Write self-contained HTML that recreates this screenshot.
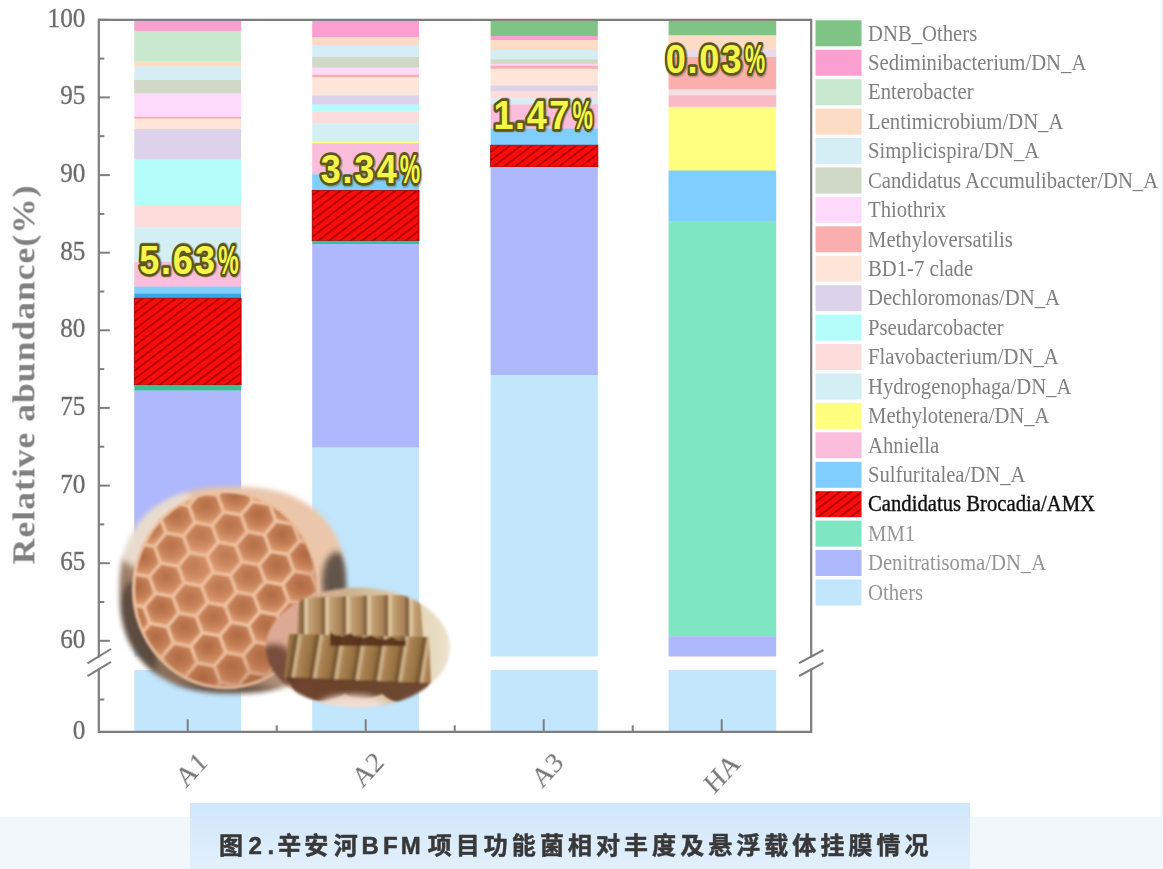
<!DOCTYPE html>
<html lang="zh"><head><meta charset="utf-8"><title>图2</title>
<style>
html,body{margin:0;padding:0;background:#fff}
body{width:1163px;height:869px;position:relative;overflow:hidden;font-family:"Liberation Sans",sans-serif}
#strip{position:absolute;left:0;top:817px;width:1163px;height:52px;background:#f2f7fb}
#edge{position:absolute;left:1161px;top:0;width:2px;height:869px;background:#f2f7fb}
#cap{position:absolute;left:190px;top:803px;width:780px;height:66px;background:linear-gradient(#cfe6fa,#e3f0fc)}
#captext{position:absolute;left:219px;top:829px;width:720px;height:30px;margin:0;font-size:24px;line-height:30px;letter-spacing:4px;font-weight:bold;color:transparent;white-space:nowrap;overflow:hidden}
</style></head><body>
<div id="strip"></div>
<div id="edge"></div>
<div id="cap"></div>
<svg width="1163" height="869" viewBox="0 0 1163 869" style="position:absolute;left:0;top:0">
<defs>
<pattern id="hatch" width="6.6" height="6.6" patternUnits="userSpaceOnUse" patternTransform="rotate(-37)">
<rect width="6.6" height="6.6" fill="#f80808"/><rect y="0" width="6.6" height="1.5" fill="#a40000"/>
</pattern>
<filter id="soft" x="-5%" y="-5%" width="110%" height="110%"><feGaussianBlur stdDeviation="0.45"/></filter>
<filter id="softb" x="-2%" y="-2%" width="104%" height="104%"><feGaussianBlur stdDeviation="0.75"/></filter>
<filter id="soft2" x="-5%" y="-5%" width="110%" height="110%"><feGaussianBlur stdDeviation="0.6"/></filter>
</defs>
<g filter="url(#softb)">
<rect x="134.3" y="20.00" width="106.8" height="11.30" fill="#fb9fd0"/>
<rect x="134.3" y="31.00" width="106.8" height="30.30" fill="#c8e8cf"/>
<rect x="134.3" y="61.00" width="106.8" height="5.80" fill="#fddcc6"/>
<rect x="134.3" y="66.50" width="106.8" height="13.80" fill="#d5eef6"/>
<rect x="134.3" y="80.00" width="106.8" height="13.70" fill="#d0d9c6"/>
<rect x="134.3" y="93.40" width="106.8" height="23.70" fill="#fddafc"/>
<rect x="134.3" y="116.80" width="106.8" height="2.10" fill="#fbaeae"/>
<rect x="134.3" y="118.60" width="106.8" height="10.70" fill="#fde6d9"/>
<rect x="134.3" y="129.00" width="106.8" height="30.70" fill="#dcd3ea"/>
<rect x="134.3" y="159.40" width="106.8" height="45.90" fill="#b4fdfb"/>
<rect x="134.3" y="205.00" width="106.8" height="22.60" fill="#fddcdc"/>
<rect x="134.3" y="227.30" width="106.8" height="34.80" fill="#d4eff3"/>
<rect x="134.3" y="261.80" width="106.8" height="25.10" fill="#fbbddc"/>
<rect x="134.3" y="286.60" width="106.8" height="7.20" fill="#80ceff"/>
<rect x="134.3" y="293.50" width="106.8" height="5.00" fill="#38a8ec"/>
<rect x="134.3" y="298.20" width="106.8" height="87.00" fill="url(#hatch)"/>
<rect x="134.3" y="298.20" width="106.8" height="86.70" fill="none" stroke="#a00000" stroke-width="0.8"/>
<rect x="134.3" y="384.90" width="106.8" height="5.90" fill="#35c394"/>
<rect x="134.3" y="390.50" width="106.8" height="174.80" fill="#aeb8fc"/>
<rect x="134.3" y="565.00" width="106.8" height="91.50" fill="#c2e6fc"/>
<rect x="134.3" y="670.0" width="106.8" height="61.5" fill="#c2e6fc"/>
<rect x="312.2" y="20.00" width="106.8" height="17.70" fill="#fb9fd0"/>
<rect x="312.2" y="37.40" width="106.8" height="7.90" fill="#fddcc6"/>
<rect x="312.2" y="45.00" width="106.8" height="12.30" fill="#d5eef6"/>
<rect x="312.2" y="57.00" width="106.8" height="10.90" fill="#d0d9c6"/>
<rect x="312.2" y="67.60" width="106.8" height="7.50" fill="#fddafc"/>
<rect x="312.2" y="74.80" width="106.8" height="2.90" fill="#fbaeae"/>
<rect x="312.2" y="77.40" width="106.8" height="18.30" fill="#fde6d9"/>
<rect x="312.2" y="95.40" width="106.8" height="9.40" fill="#dcd3ea"/>
<rect x="312.2" y="104.50" width="106.8" height="7.20" fill="#b4fdfb"/>
<rect x="312.2" y="111.40" width="106.8" height="12.20" fill="#fddcdc"/>
<rect x="312.2" y="123.30" width="106.8" height="18.60" fill="#d4eff3"/>
<rect x="312.2" y="141.60" width="106.8" height="2.00" fill="#ffff80"/>
<rect x="312.2" y="143.30" width="106.8" height="31.30" fill="#fbbddc"/>
<rect x="312.2" y="174.30" width="106.8" height="16.40" fill="#80ceff"/>
<rect x="312.2" y="190.40" width="106.8" height="50.70" fill="url(#hatch)"/>
<rect x="312.2" y="190.40" width="106.8" height="50.40" fill="none" stroke="#a00000" stroke-width="0.8"/>
<rect x="312.2" y="240.80" width="106.8" height="3.50" fill="#35c394"/>
<rect x="312.2" y="244.00" width="106.8" height="203.80" fill="#aeb8fc"/>
<rect x="312.2" y="447.50" width="106.8" height="209.00" fill="#c2e6fc"/>
<rect x="312.2" y="670.0" width="106.8" height="61.5" fill="#c2e6fc"/>
<rect x="490.6" y="20.00" width="107.2" height="16.20" fill="#7fc484"/>
<rect x="490.6" y="35.90" width="107.2" height="4.40" fill="#fb9fd0"/>
<rect x="490.6" y="40.00" width="107.2" height="10.30" fill="#fddcc6"/>
<rect x="490.6" y="50.00" width="107.2" height="9.50" fill="#d5eef6"/>
<rect x="490.6" y="59.20" width="107.2" height="4.90" fill="#d0d9c6"/>
<rect x="490.6" y="63.80" width="107.2" height="2.10" fill="#fddafc"/>
<rect x="490.6" y="65.60" width="107.2" height="3.40" fill="#fbaeae"/>
<rect x="490.6" y="68.70" width="107.2" height="17.00" fill="#fde6d9"/>
<rect x="490.6" y="85.40" width="107.2" height="6.40" fill="#dcd3ea"/>
<rect x="490.6" y="91.50" width="107.2" height="7.20" fill="#fddcdc"/>
<rect x="490.6" y="98.40" width="107.2" height="6.30" fill="#d4eff3"/>
<rect x="490.6" y="104.40" width="107.2" height="24.50" fill="#fbbddc"/>
<rect x="490.6" y="128.60" width="107.2" height="16.90" fill="#80ceff"/>
<rect x="490.6" y="145.20" width="107.2" height="22.10" fill="url(#hatch)"/>
<rect x="490.6" y="145.20" width="107.2" height="21.80" fill="none" stroke="#a00000" stroke-width="0.8"/>
<rect x="490.6" y="167.00" width="107.2" height="208.30" fill="#aeb8fc"/>
<rect x="490.6" y="375.00" width="107.2" height="281.50" fill="#c2e6fc"/>
<rect x="490.6" y="670.0" width="107.2" height="61.5" fill="#c2e6fc"/>
<rect x="668.6" y="20.00" width="107.6" height="15.70" fill="#7fc484"/>
<rect x="668.6" y="35.40" width="107.6" height="14.90" fill="#fddcc6"/>
<rect x="668.6" y="50.00" width="107.6" height="7.30" fill="#e8daec"/>
<rect x="668.6" y="57.00" width="107.6" height="32.80" fill="#fbaeae"/>
<rect x="668.6" y="89.50" width="107.6" height="6.00" fill="#f2e2e6"/>
<rect x="668.6" y="95.20" width="107.6" height="11.80" fill="#f9bcc6"/>
<rect x="668.6" y="106.70" width="107.6" height="1.20" fill="#fde6d9"/>
<rect x="668.6" y="107.60" width="107.6" height="63.30" fill="#ffff80"/>
<rect x="668.6" y="170.60" width="107.6" height="51.20" fill="#80ceff"/>
<rect x="668.6" y="221.50" width="107.6" height="415.10" fill="#7fe6c4"/>
<rect x="668.6" y="636.30" width="107.6" height="20.20" fill="#aeb8fc"/>
<rect x="668.6" y="670.0" width="107.6" height="61.5" fill="#c2e6fc"/>
</g>
<g stroke="#7e7e7e" stroke-width="2.2" fill="none" filter="url(#soft)">
<path d="M98.8 732.9 V18.7"/>
<path d="M98.8 19.8 H811.2"/>
<path d="M811.2 18.7 V732.9"/>
<path d="M98.8 731.8 H811.2"/>
</g>
<g filter="url(#soft)">
<rect x="95.8" y="657.5" width="6" height="11" fill="#fff"/>
<rect x="808.2" y="657.5" width="6" height="11" fill="#fff"/>
<g stroke="#7e7e7e" stroke-width="2" fill="none">
<path d="M87.5 663.4 L111 649"/><path d="M87.5 676.2 L111 661.8"/>
<path d="M799 663.2 L823.5 650"/><path d="M799 676 L823.5 662.8"/>
<path d="M98.8 640.8 h11"/>
<path d="M98.8 563.2 h11"/>
<path d="M98.8 485.6 h11"/>
<path d="M98.8 407.9 h11"/>
<path d="M98.8 330.3 h11"/>
<path d="M98.8 252.7 h11"/>
<path d="M98.8 175.1 h11"/>
<path d="M98.8 97.4 h11"/>
<path d="M98.8 19.8 h11"/>
<path d="M98.8 602.0 h5.5"/>
<path d="M98.8 524.4 h5.5"/>
<path d="M98.8 446.7 h5.5"/>
<path d="M98.8 369.1 h5.5"/>
<path d="M98.8 291.5 h5.5"/>
<path d="M98.8 213.9 h5.5"/>
<path d="M98.8 136.2 h5.5"/>
<path d="M98.8 58.6 h5.5"/>
<path d="M98.8 699.5 h5.5"/>
<path d="M187.7 731.8 v-12.5"/>
<path d="M365.7 731.8 v-12.5"/>
<path d="M543.7 731.8 v-12.5"/>
<path d="M721.7 731.8 v-12.5"/>
<path d="M276.7 731.8 v-6.5"/>
<path d="M454.7 731.8 v-6.5"/>
<path d="M632.7 731.8 v-6.5"/>
</g></g>
<g font-family="Liberation Serif, serif" font-size="25.2" fill="#6c6c6c" stroke="#6c6c6c" stroke-width="0.3" text-anchor="end" filter="url(#soft)">
<text transform="translate(85.4 647.8) scale(1 1.09)">60</text>
<text transform="translate(85.4 570.2) scale(1 1.09)">65</text>
<text transform="translate(85.4 492.6) scale(1 1.09)">70</text>
<text transform="translate(85.4 414.9) scale(1 1.09)">75</text>
<text transform="translate(85.4 337.3) scale(1 1.09)">80</text>
<text transform="translate(85.4 259.7) scale(1 1.09)">85</text>
<text transform="translate(85.4 182.1) scale(1 1.09)">90</text>
<text transform="translate(85.4 104.4) scale(1 1.09)">95</text>
<text transform="translate(85.4 26.8) scale(1 1.09)">100</text>
<text transform="translate(85.4 739.2) scale(1 1.09)">0</text>
</g>
<text transform="translate(34.4 374.3) rotate(-90) scale(1.09 1)" text-anchor="middle" font-family="Liberation Serif, serif" font-weight="bold" font-size="32.6" letter-spacing="0.95" fill="#808080" filter="url(#soft2)">Relative abundance(%)</text>
<text transform="translate(191.4 769.6) scale(1 1.09) rotate(-45)" text-anchor="middle" y="8.8" font-family="Liberation Serif, serif" font-size="26.8" fill="#757575" filter="url(#soft2)">A1</text>
<text transform="translate(367.8 769.6) scale(1 1.09) rotate(-45)" text-anchor="middle" y="8.8" font-family="Liberation Serif, serif" font-size="26.8" fill="#757575" filter="url(#soft2)">A2</text>
<text transform="translate(547.4 770.1) scale(1 1.09) rotate(-45)" text-anchor="middle" y="8.8" font-family="Liberation Serif, serif" font-size="26.8" fill="#757575" filter="url(#soft2)">A3</text>
<text transform="translate(721.9 773.4) scale(1 1.09) rotate(-45)" text-anchor="middle" y="8.8" font-family="Liberation Serif, serif" font-size="26.8" fill="#757575" filter="url(#soft2)">HA</text>
<g filter="url(#soft)">
<rect x="815.5" y="20.3" width="46" height="26" fill="#7fc484"/>
<rect x="815.5" y="49.7" width="46" height="26" fill="#fb9fd0"/>
<rect x="815.5" y="79.2" width="46" height="26" fill="#c8e8cf"/>
<rect x="815.5" y="108.6" width="46" height="26" fill="#fddcc6"/>
<rect x="815.5" y="138.0" width="46" height="26" fill="#d5eef6"/>
<rect x="815.5" y="167.5" width="46" height="26" fill="#d0d9c6"/>
<rect x="815.5" y="196.9" width="46" height="26" fill="#fddafc"/>
<rect x="815.5" y="226.3" width="46" height="26" fill="#fbaeae"/>
<rect x="815.5" y="255.7" width="46" height="26" fill="#fde6d9"/>
<rect x="815.5" y="285.2" width="46" height="26" fill="#dcd3ea"/>
<rect x="815.5" y="314.6" width="46" height="26" fill="#b4fdfb"/>
<rect x="815.5" y="344.0" width="46" height="26" fill="#fddcdc"/>
<rect x="815.5" y="373.5" width="46" height="26" fill="#d4eff3"/>
<rect x="815.5" y="402.9" width="46" height="26" fill="#ffff80"/>
<rect x="815.5" y="432.3" width="46" height="26" fill="#fbbddc"/>
<rect x="815.5" y="461.8" width="46" height="26" fill="#80ceff"/>
<rect x="815.5" y="491.2" width="46" height="26" fill="url(#hatch)"/>
<rect x="815.5" y="520.6" width="46" height="26" fill="#7fe6c4"/>
<rect x="815.5" y="550.0" width="46" height="26" fill="#aeb8fc"/>
<rect x="815.5" y="579.5" width="46" height="26" fill="#c2e6fc"/>
</g>
<g font-family="Liberation Serif, serif" font-size="20.7" filter="url(#soft)">
<text transform="translate(868 40.5) scale(1 1.09)" fill="#808080">DNB_Others</text>
<text transform="translate(868 69.9) scale(1 1.09)" fill="#808080">Sediminibacterium/DN_A</text>
<text transform="translate(868 99.4) scale(1 1.09)" fill="#808080">Enterobacter</text>
<text transform="translate(868 128.8) scale(1 1.09)" fill="#808080">Lentimicrobium/DN_A</text>
<text transform="translate(868 158.2) scale(1 1.09)" fill="#808080">Simplicispira/DN_A</text>
<text transform="translate(868 187.7) scale(1 1.09)" fill="#808080">Candidatus Accumulibacter/DN_A</text>
<text transform="translate(868 217.1) scale(1 1.09)" fill="#808080">Thiothrix</text>
<text transform="translate(868 246.5) scale(1 1.09)" fill="#808080">Methyloversatilis</text>
<text transform="translate(868 275.9) scale(1 1.09)" fill="#808080">BD1-7 clade</text>
<text transform="translate(868 305.4) scale(1 1.09)" fill="#808080">Dechloromonas/DN_A</text>
<text transform="translate(868 334.8) scale(1 1.09)" fill="#808080">Pseudarcobacter</text>
<text transform="translate(868 364.2) scale(1 1.09)" fill="#808080">Flavobacterium/DN_A</text>
<text transform="translate(868 393.7) scale(1 1.09)" fill="#808080">Hydrogenophaga/DN_A</text>
<text transform="translate(868 423.1) scale(1 1.09)" fill="#808080">Methylotenera/DN_A</text>
<text transform="translate(868 452.5) scale(1 1.09)" fill="#808080">Ahniella</text>
<text transform="translate(868 481.9) scale(1 1.09)" fill="#808080">Sulfuritalea/DN_A</text>
<text transform="translate(868 511.4) scale(1 1.09)" fill="#111" stroke="#111" stroke-width="0.35">Candidatus Brocadia/AMX</text>
<text transform="translate(868 540.8) scale(1 1.09)" fill="#969696">MM1</text>
<text transform="translate(868 570.2) scale(1 1.09)" fill="#969696">Denitratisoma/DN_A</text>
<text transform="translate(868 599.7) scale(1 1.09)" fill="#969696">Others</text>
</g>
<g font-family="Liberation Sans, sans-serif" font-weight="bold" font-size="41" text-anchor="middle">
<text transform="translate(150.1 274.2) scale(0.88 1)" fill="#5d5716" stroke="#5d5716" stroke-width="6.4" stroke-linejoin="round" opacity="0.3" vector-effect="non-scaling-stroke">5</text>
<text transform="translate(166.7 274.2) scale(0.88 1)" fill="#5d5716" stroke="#5d5716" stroke-width="6.4" stroke-linejoin="round" opacity="0.3" vector-effect="non-scaling-stroke">.</text>
<text transform="translate(183.5 274.2) scale(0.88 1)" fill="#5d5716" stroke="#5d5716" stroke-width="6.4" stroke-linejoin="round" opacity="0.3" vector-effect="non-scaling-stroke">6</text>
<text transform="translate(205.9 274.2) scale(0.88 1)" fill="#5d5716" stroke="#5d5716" stroke-width="6.4" stroke-linejoin="round" opacity="0.3" vector-effect="non-scaling-stroke">3</text>
<text transform="translate(229.2 274.2) scale(0.56 1)" fill="#5d5716" stroke="#5d5716" stroke-width="6.4" stroke-linejoin="round" opacity="0.3" vector-effect="non-scaling-stroke">%</text>
<text transform="translate(149.3 273.5) scale(0.88 1)" fill="#f6f648" stroke="#5d5716" stroke-width="5" stroke-linejoin="round" paint-order="stroke" vector-effect="non-scaling-stroke">5</text>
<text transform="translate(165.9 273.5) scale(0.88 1)" fill="#f6f648" stroke="#5d5716" stroke-width="5" stroke-linejoin="round" paint-order="stroke" vector-effect="non-scaling-stroke">.</text>
<text transform="translate(182.7 273.5) scale(0.88 1)" fill="#f6f648" stroke="#5d5716" stroke-width="5" stroke-linejoin="round" paint-order="stroke" vector-effect="non-scaling-stroke">6</text>
<text transform="translate(205.1 273.5) scale(0.88 1)" fill="#f6f648" stroke="#5d5716" stroke-width="5" stroke-linejoin="round" paint-order="stroke" vector-effect="non-scaling-stroke">3</text>
<text transform="translate(228.4 273.5) scale(0.56 1)" fill="#f6f648" stroke="#5d5716" stroke-width="5" stroke-linejoin="round" paint-order="stroke" vector-effect="non-scaling-stroke">%</text>
</g>
<g font-family="Liberation Sans, sans-serif" font-weight="bold" font-size="41" text-anchor="middle">
<text transform="translate(331.7 183.7) scale(0.88 1)" fill="#5d5716" stroke="#5d5716" stroke-width="6.4" stroke-linejoin="round" opacity="0.3" vector-effect="non-scaling-stroke">3</text>
<text transform="translate(348.3 183.7) scale(0.88 1)" fill="#5d5716" stroke="#5d5716" stroke-width="6.4" stroke-linejoin="round" opacity="0.3" vector-effect="non-scaling-stroke">.</text>
<text transform="translate(365.1 183.7) scale(0.88 1)" fill="#5d5716" stroke="#5d5716" stroke-width="6.4" stroke-linejoin="round" opacity="0.3" vector-effect="non-scaling-stroke">3</text>
<text transform="translate(387.5 183.7) scale(0.88 1)" fill="#5d5716" stroke="#5d5716" stroke-width="6.4" stroke-linejoin="round" opacity="0.3" vector-effect="non-scaling-stroke">4</text>
<text transform="translate(410.8 183.7) scale(0.56 1)" fill="#5d5716" stroke="#5d5716" stroke-width="6.4" stroke-linejoin="round" opacity="0.3" vector-effect="non-scaling-stroke">%</text>
<text transform="translate(330.9 183.0) scale(0.88 1)" fill="#f6f648" stroke="#5d5716" stroke-width="5" stroke-linejoin="round" paint-order="stroke" vector-effect="non-scaling-stroke">3</text>
<text transform="translate(347.5 183.0) scale(0.88 1)" fill="#f6f648" stroke="#5d5716" stroke-width="5" stroke-linejoin="round" paint-order="stroke" vector-effect="non-scaling-stroke">.</text>
<text transform="translate(364.3 183.0) scale(0.88 1)" fill="#f6f648" stroke="#5d5716" stroke-width="5" stroke-linejoin="round" paint-order="stroke" vector-effect="non-scaling-stroke">3</text>
<text transform="translate(386.7 183.0) scale(0.88 1)" fill="#f6f648" stroke="#5d5716" stroke-width="5" stroke-linejoin="round" paint-order="stroke" vector-effect="non-scaling-stroke">4</text>
<text transform="translate(410.0 183.0) scale(0.56 1)" fill="#f6f648" stroke="#5d5716" stroke-width="5" stroke-linejoin="round" paint-order="stroke" vector-effect="non-scaling-stroke">%</text>
</g>
<g font-family="Liberation Sans, sans-serif" font-weight="bold" font-size="41" text-anchor="middle">
<text transform="translate(504.3 129.4) scale(0.88 1)" fill="#5d5716" stroke="#5d5716" stroke-width="6.4" stroke-linejoin="round" opacity="0.3" vector-effect="non-scaling-stroke">1</text>
<text transform="translate(520.9 129.4) scale(0.88 1)" fill="#5d5716" stroke="#5d5716" stroke-width="6.4" stroke-linejoin="round" opacity="0.3" vector-effect="non-scaling-stroke">.</text>
<text transform="translate(537.7 129.4) scale(0.88 1)" fill="#5d5716" stroke="#5d5716" stroke-width="6.4" stroke-linejoin="round" opacity="0.3" vector-effect="non-scaling-stroke">4</text>
<text transform="translate(560.1 129.4) scale(0.88 1)" fill="#5d5716" stroke="#5d5716" stroke-width="6.4" stroke-linejoin="round" opacity="0.3" vector-effect="non-scaling-stroke">7</text>
<text transform="translate(583.4 129.4) scale(0.56 1)" fill="#5d5716" stroke="#5d5716" stroke-width="6.4" stroke-linejoin="round" opacity="0.3" vector-effect="non-scaling-stroke">%</text>
<text transform="translate(503.5 128.7) scale(0.88 1)" fill="#f6f648" stroke="#5d5716" stroke-width="5" stroke-linejoin="round" paint-order="stroke" vector-effect="non-scaling-stroke">1</text>
<text transform="translate(520.1 128.7) scale(0.88 1)" fill="#f6f648" stroke="#5d5716" stroke-width="5" stroke-linejoin="round" paint-order="stroke" vector-effect="non-scaling-stroke">.</text>
<text transform="translate(536.9 128.7) scale(0.88 1)" fill="#f6f648" stroke="#5d5716" stroke-width="5" stroke-linejoin="round" paint-order="stroke" vector-effect="non-scaling-stroke">4</text>
<text transform="translate(559.3 128.7) scale(0.88 1)" fill="#f6f648" stroke="#5d5716" stroke-width="5" stroke-linejoin="round" paint-order="stroke" vector-effect="non-scaling-stroke">7</text>
<text transform="translate(582.6 128.7) scale(0.56 1)" fill="#f6f648" stroke="#5d5716" stroke-width="5" stroke-linejoin="round" paint-order="stroke" vector-effect="non-scaling-stroke">%</text>
</g>
<g font-family="Liberation Sans, sans-serif" font-weight="bold" font-size="41" text-anchor="middle">
<text transform="translate(676.6 73.9) scale(0.88 1)" fill="#5d5716" stroke="#5d5716" stroke-width="6.4" stroke-linejoin="round" opacity="0.3" vector-effect="non-scaling-stroke">0</text>
<text transform="translate(693.2 73.9) scale(0.88 1)" fill="#5d5716" stroke="#5d5716" stroke-width="6.4" stroke-linejoin="round" opacity="0.3" vector-effect="non-scaling-stroke">.</text>
<text transform="translate(710.0 73.9) scale(0.88 1)" fill="#5d5716" stroke="#5d5716" stroke-width="6.4" stroke-linejoin="round" opacity="0.3" vector-effect="non-scaling-stroke">0</text>
<text transform="translate(732.4 73.9) scale(0.88 1)" fill="#5d5716" stroke="#5d5716" stroke-width="6.4" stroke-linejoin="round" opacity="0.3" vector-effect="non-scaling-stroke">3</text>
<text transform="translate(755.7 73.9) scale(0.56 1)" fill="#5d5716" stroke="#5d5716" stroke-width="6.4" stroke-linejoin="round" opacity="0.3" vector-effect="non-scaling-stroke">%</text>
<text transform="translate(675.8 73.2) scale(0.88 1)" fill="#f6f648" stroke="#5d5716" stroke-width="5" stroke-linejoin="round" paint-order="stroke" vector-effect="non-scaling-stroke">0</text>
<text transform="translate(692.4 73.2) scale(0.88 1)" fill="#f6f648" stroke="#5d5716" stroke-width="5" stroke-linejoin="round" paint-order="stroke" vector-effect="non-scaling-stroke">.</text>
<text transform="translate(709.2 73.2) scale(0.88 1)" fill="#f6f648" stroke="#5d5716" stroke-width="5" stroke-linejoin="round" paint-order="stroke" vector-effect="non-scaling-stroke">0</text>
<text transform="translate(731.6 73.2) scale(0.88 1)" fill="#f6f648" stroke="#5d5716" stroke-width="5" stroke-linejoin="round" paint-order="stroke" vector-effect="non-scaling-stroke">3</text>
<text transform="translate(754.9 73.2) scale(0.56 1)" fill="#f6f648" stroke="#5d5716" stroke-width="5" stroke-linejoin="round" paint-order="stroke" vector-effect="non-scaling-stroke">%</text>
</g>
</svg>
<svg width="1163" height="869" viewBox="0 0 1163 869" style="position:absolute;left:0;top:0">
<defs>
<radialGradient id="cellg" gradientUnits="objectBoundingBox" cx="0.48" cy="0.38" r="0.62"><stop offset="0" stop-color="#ad6941"/><stop offset="0.55" stop-color="#c27c53"/><stop offset="1" stop-color="#dc9c72"/></radialGradient>
<pattern id="hex" width="53.100" height="30.657" patternUnits="userSpaceOnUse" patternTransform="translate(219 589) rotate(10)">
<rect width="53.100" height="30.657" fill="#e0a27a"/><polygon points="16.46,0.00 8.23,14.26 -8.23,14.26 -16.46,0.00 -8.23,-14.26 8.23,-14.26" fill="url(#cellg)"/><polygon points="69.56,0.00 61.33,14.26 44.87,14.26 36.64,0.00 44.87,-14.26 61.33,-14.26" fill="url(#cellg)"/><polygon points="16.46,30.66 8.23,44.91 -8.23,44.91 -16.46,30.66 -8.23,16.40 8.23,16.40" fill="url(#cellg)"/><polygon points="69.56,30.66 61.33,44.91 44.87,44.91 36.64,30.66 44.87,16.40 61.33,16.40" fill="url(#cellg)"/><polygon points="43.01,15.33 34.78,29.58 18.32,29.58 10.09,15.33 18.32,1.07 34.78,1.07" fill="url(#cellg)"/>
<g fill="none" stroke="#f2c7a6" stroke-width="2.8" stroke-linejoin="round"><polygon points="17.70,0.00 8.85,15.33 -8.85,15.33 -17.70,0.00 -8.85,-15.33 8.85,-15.33"/><polygon points="70.80,0.00 61.95,15.33 44.25,15.33 35.40,0.00 44.25,-15.33 61.95,-15.33"/><polygon points="17.70,30.66 8.85,45.99 -8.85,45.99 -17.70,30.66 -8.85,15.33 8.85,15.33"/><polygon points="70.80,30.66 61.95,45.99 44.25,45.99 35.40,30.66 44.25,15.33 61.95,15.33"/><polygon points="44.25,15.33 35.40,30.66 17.70,30.66 8.85,15.33 17.70,0.00 35.40,0.00"/></g>
</pattern>
<radialGradient id="fe1" cx="0.5" cy="0.5" r="0.5"><stop offset="0" stop-color="#fff"/><stop offset="0.93" stop-color="#fff"/><stop offset="0.97" stop-color="#fff" stop-opacity="0.7"/><stop offset="1" stop-color="#fff" stop-opacity="0"/></radialGradient>
<filter id="mb1" x="-10%" y="-10%" width="120%" height="120%"><feGaussianBlur stdDeviation="2.4"/></filter>
<mask id="m1"><polygon points="346.5,590.0 346.1,603.5 345.1,614.1 343.3,623.6 340.8,632.3 337.6,640.5 333.7,648.1 329.1,655.1 323.9,661.6 318.0,667.5 311.5,672.9 304.4,677.6 296.7,681.8 288.4,685.4 279.4,688.3 269.8,690.6 259.4,692.2 247.9,693.2 233.0,693.5 218.1,693.2 206.6,692.2 196.2,690.6 186.6,688.3 177.6,685.4 169.3,681.8 161.6,677.6 154.5,672.9 148.0,667.5 142.1,661.6 136.9,655.1 132.3,648.1 128.4,640.5 125.2,632.3 122.7,623.6 120.9,614.1 119.9,603.5 119.5,590.0 119.9,576.5 120.9,565.9 122.7,556.4 125.2,547.7 128.4,539.5 132.3,531.9 136.9,524.9 142.1,518.4 148.0,512.5 154.5,507.1 161.6,502.4 169.3,498.2 177.6,494.6 186.6,491.7 196.2,489.4 206.6,487.8 218.1,486.8 233.0,486.5 247.9,486.8 259.4,487.8 269.8,489.4 279.4,491.7 288.4,494.6 296.7,498.2 304.4,502.4 311.5,507.1 318.0,512.5 323.9,518.4 329.1,524.9 333.7,531.9 337.6,539.5 340.8,547.7 343.3,556.4 345.1,565.9 346.1,576.5" fill="#fff" filter="url(#mb1)"/></mask>
<radialGradient id="fe2" cx="0.5" cy="0.5" r="0.5"><stop offset="0" stop-color="#fff"/><stop offset="0.94" stop-color="#fff"/><stop offset="0.975" stop-color="#fff" stop-opacity="0.7"/><stop offset="1" stop-color="#fff" stop-opacity="0"/></radialGradient>
<filter id="mb2" x="-10%" y="-10%" width="120%" height="120%"><feGaussianBlur stdDeviation="1.4"/></filter>
<mask id="m2"><ellipse cx="357.8" cy="647.5" rx="92" ry="60" fill="#fff" filter="url(#mb2)"/></mask>
<linearGradient id="bg1" x1="0" y1="1" x2="1" y2="0"><stop offset="0" stop-color="#6e5a4a"/><stop offset="0.3" stop-color="#9a7c66"/><stop offset="0.6" stop-color="#e2bda2"/><stop offset="1" stop-color="#f0d6c2"/></linearGradient>
<radialGradient id="discg" cx="0.4" cy="0.36" r="0.7"><stop offset="0" stop-color="#f6ba96" stop-opacity="0.3"/><stop offset="0.6" stop-color="#d08860" stop-opacity="0.02"/><stop offset="1" stop-color="#8a4a2a" stop-opacity="0.4"/></radialGradient>
<filter id="pb" x="-5%" y="-5%" width="110%" height="110%"><feGaussianBlur stdDeviation="0.8"/></filter>
<filter id="pb1" x="-10%" y="-10%" width="120%" height="120%"><feGaussianBlur stdDeviation="1.3"/></filter>
<filter id="pb2" x="-20%" y="-20%" width="140%" height="140%"><feGaussianBlur stdDeviation="3"/></filter>
<linearGradient id="rib" x1="0" y1="0" x2="1" y2="0"><stop offset="0" stop-color="#7c5836"/><stop offset="0.12" stop-color="#e6d2ac"/><stop offset="0.3" stop-color="#c4a074"/><stop offset="0.8" stop-color="#a88258"/><stop offset="1" stop-color="#7c5836"/></linearGradient>
<linearGradient id="ribd" x1="0" y1="0" x2="1" y2="0"><stop offset="0" stop-color="#6e4a2a"/><stop offset="0.12" stop-color="#d8c096"/><stop offset="0.3" stop-color="#ac8456"/><stop offset="0.8" stop-color="#94703f"/><stop offset="1" stop-color="#6e4a2a"/></linearGradient>
<pattern id="ribs" width="21" height="10" patternUnits="userSpaceOnUse" patternTransform="translate(303 0)"><rect width="21" height="10" fill="url(#rib)"/></pattern>
<pattern id="ribs2" width="21.5" height="10" patternUnits="userSpaceOnUse" patternTransform="translate(290 0) skewX(-9)"><rect width="21.5" height="10" fill="url(#ribd)"/></pattern>
<linearGradient id="bg2" x1="0" y1="0" x2="1" y2="0"><stop offset="0" stop-color="#cf9a82"/><stop offset="0.2" stop-color="#dcae98"/><stop offset="0.45" stop-color="#ccb28c"/><stop offset="0.8" stop-color="#e4d6ba"/><stop offset="1" stop-color="#efe6d2"/></linearGradient>
</defs>
<g mask="url(#m1)">
 <rect x="110" y="474" width="246" height="230" fill="url(#bg1)"/>
 <ellipse cx="150" cy="520" rx="46" ry="50" fill="#e9dccf" filter="url(#pb2)"/>
 <ellipse cx="318" cy="528" rx="50" ry="70" fill="#ecc6aa" filter="url(#pb2)"/>
 <ellipse cx="136" cy="640" rx="22" ry="60" fill="#54443a" opacity="0.85" filter="url(#pb2)"/>
 <ellipse cx="337" cy="582" rx="15" ry="30" fill="#564840" opacity="0.9" filter="url(#pb2)"/>
 <ellipse cx="215" cy="696" rx="80" ry="12" fill="#5e4a3c" opacity="0.8" filter="url(#pb2)"/>
 <g filter="url(#pb)">
 <ellipse cx="225.5" cy="589.5" rx="92" ry="98" fill="url(#hex)" stroke="#eec4a2" stroke-width="3"/>
 <ellipse cx="225.5" cy="589.5" rx="92" ry="98" fill="url(#discg)"/>
 </g>
</g>
<g mask="url(#m2)">
 <rect x="255" y="580" width="206" height="136" fill="url(#bg2)"/>
 <ellipse cx="284" cy="622" rx="30" ry="26" fill="#dcaa94" filter="url(#pb2)"/>
 <ellipse cx="274" cy="668" rx="22" ry="24" fill="#6e4434" opacity="0.9" filter="url(#pb2)"/>
 <g filter="url(#pb1)">
 <polygon points="299,598 420,594 423,640 297,636" fill="url(#ribs)"/>
 <polygon points="289,634 429,637 431,684 284,678" fill="url(#ribs2)"/>
 <path d="M330 632 q10 8 20 1 q10 8 21 2 q10 8 21 2 q8 6 14 3 v6 h-76z" fill="#55301a" opacity="0.9"/>
 <path d="M286 677 L430 683 L425 700 Q400 710 382 694 Q360 704 345 694 Q325 706 298 698 Z" fill="#5e361e" opacity="0.88"/>
 </g>
 <ellipse cx="352" cy="706" rx="34" ry="11" fill="#f0dcd0" filter="url(#pb2)"/>
</g>
</svg>
<svg width="1163" height="869" viewBox="0 0 1163 869" style="position:absolute;left:0;top:0" aria-hidden="true"><g fill="#383838" stroke="#383838" stroke-width="0.5" stroke-linejoin="round" filter="url(#soft)">
<text y="854.3" font-family="'Liberation Sans', 'Noto Sans CJK SC', sans-serif" font-weight="bold" font-size="24" x="218.97 248.46 267.40 277.20 304.28 333.72 361.52 383.02 400.82 427.70 455.75 483.80 511.85 539.90 567.95 596.00 624.05 652.10 680.15 708.20 736.25 764.30 792.35 820.40 848.45 876.50 904.55">图2.辛安河BFM项目功能菌相对丰度及悬浮载体挂膜情况</text>
</g></svg>
<p id="captext">图2.辛安河BFM项目功能菌相对丰度及悬浮载体挂膜情况</p>
</body></html>
